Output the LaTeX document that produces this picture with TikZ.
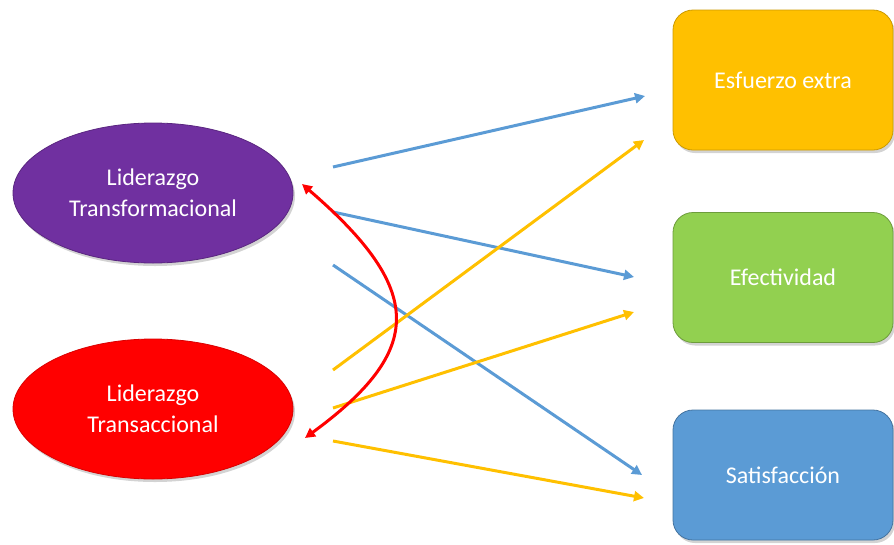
\documentclass[tikz,border=0pt]{standalone}
\usepackage{fontspec}
\setmainfont{Carlito}
\usetikzlibrary{shapes.geometric,arrows.meta,shadows}
\definecolor{cpurple}{HTML}{7030A0}
\definecolor{cred}{HTML}{FF0000}
\definecolor{corange}{HTML}{FFC000}
\definecolor{cgreen}{HTML}{92D050}
\definecolor{cblue}{HTML}{5B9BD5}
\tikzset{
  shad/.style={drop shadow={opacity=0.35,shadow xshift=2pt,shadow yshift=-3pt}},
  lead/.style={ellipse,minimum width=280pt,minimum height=140pt,inner sep=0pt,
    align=center,text=white,font=\fontsize{24}{31}\selectfont,shad,line width=0.8pt},
  outbox/.style={rectangle,rounded corners=20pt,minimum width=220pt,inner sep=0pt,
    text=white,font=\fontsize{24}{29}\selectfont,shad,line width=0.8pt},
  conn/.style={line width=3pt,-{Triangle[length=10pt,width=10pt]}},
  bconn/.style={conn,draw=cblue},
  yconn/.style={conn,draw=corange},
}
\begin{document}
\begin{tikzpicture}[x=1pt,y=-1pt]
\useasboundingbox (0,0) rectangle (894,544);
\node[lead,fill=cpurple,draw=cpurple!80!black] (lt) at (153,193) {Liderazgo\\Transformacional};
\node[lead,fill=cred,draw=cred!85!black] (ltr) at (153,409) {Liderazgo\\Transaccional};
\node[outbox,fill=corange,draw=corange!80!black,minimum height=140pt] (ee) at (783,80) {Esfuerzo extra};
\node[outbox,fill=cgreen,draw=cgreen!75!black,minimum height=130pt] (ef) at (783,277.5) {Efectividad};
\node[outbox,fill=cblue,draw=cblue!75!black,minimum height=130pt] (sa) at (783,475) {Satisfacción};
% free ends
\coordinate (b1s) at (333,167); \coordinate (b1e) at (645,96);
\coordinate (b2s) at (333,212); \coordinate (b2e) at (634,277);
\coordinate (b3s) at (333,265); \coordinate (b3e) at (642,475);
\coordinate (y1s) at (333,370); \coordinate (y1e) at (644,140);
\coordinate (y2s) at (333,408); \coordinate (y2e) at (634,312);
\coordinate (y3s) at (333,441); \coordinate (y3e) at (644,498);
\coordinate (r1) at (302,184); \coordinate (r2) at (305,438);
\draw[bconn] (b1s) -- (b1e);
\draw[bconn] (b2s) -- (b2e);
\draw[bconn] (b3s) -- (b3e);
\draw[yconn] (y1s) -- (y1e);
\draw[yconn] (y2s) -- (y2e);
\draw[yconn] (y3s) -- (y3e);
\draw[cred,line width=3pt,{Triangle[length=10pt,width=10pt]}-{Triangle[length=10pt,width=10pt]}]
  (r1) .. controls (425,290) and (425,350) .. (r2);
\end{tikzpicture}
\end{document}
